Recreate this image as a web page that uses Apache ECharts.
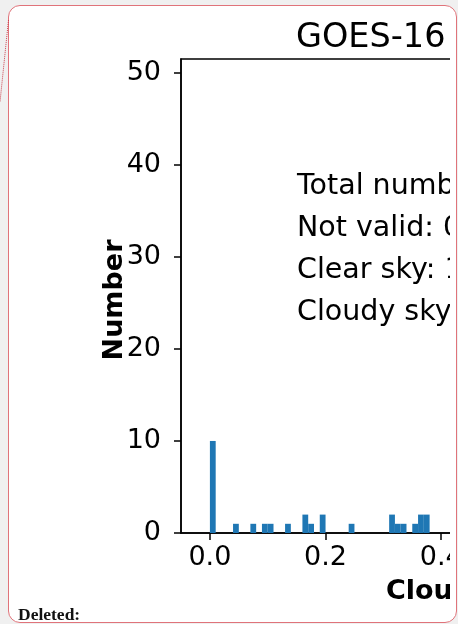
<!DOCTYPE html>
<html>
<head>
<meta charset="utf-8">
<script src="https://cdn.jsdelivr.net/npm/echarts@6/dist/echarts.min.js"></script>
<style>
  html, body { margin: 0; padding: 0; background: #f0f0f0; width: 458px; height: 624px; overflow: hidden; }
  #box { position: absolute; left: 7.5px; top: 4.5px; width: 449.5px; height: 618.5px; box-sizing: border-box;
         border: 1.5px solid #e0737a; border-radius: 12px; background: #ffffff; }
  #clip { position: absolute; left: 0; top: 0; width: 450px; height: 624px; overflow: hidden; }
  #chart { position: absolute; left: 0; top: 0; width: 900px; height: 624px; }
</style>
</head>
<body>
<div id="box"></div>
<div id="clip"><div id="chart"></div></div>
<script>
// ---- data ----
const binStarts = [0.00, 0.04, 0.07, 0.09, 0.10, 0.13, 0.16, 0.17, 0.19, 0.24, 0.31, 0.32, 0.33, 0.35, 0.36, 0.37];
const counts    = [10,   1,    1,    1,    1,    1,    2,    1,    2,    1,    2,    1,    1,    1,    2,    2];
const binWidth = 0.01;
const xTicks = [0.0, 0.2, 0.4, 0.6, 0.8, 1.0];
const yTicks = [0, 10, 20, 30, 40, 50];
const titleText = 'GOES-16';
const infoLines = ['Total number: 30', 'Not valid: 0', 'Clear sky: 10', 'Cloudy sky: 20'];
const xLabel = 'Cloud fraction';
const yLabel = 'Number';
const noteText = 'Deleted:';

const histData = binStarts.map((s, i) => [s, counts[i]]);

const chart = echarts.init(document.getElementById('chart'), null, { renderer: 'canvas' });
const FONT = 'DejaVu Sans';

const infoGraphics = infoLines.map((t, i) => ({
  type: 'text', x: 297, y: 187 + i * 42, z: 10,
  style: { text: t, fontFamily: FONT, fontSize: 28.5, fill: '#000', textAlign: 'left', textVerticalAlign: 'middle' }
}));

chart.setOption({
  animation: false,
  backgroundColor: 'transparent',
  grid: { left: 181, top: 59, width: 636, height: 474, show: true, borderColor: '#000', borderWidth: 1.5,
          backgroundColor: 'transparent', outerBoundsMode: 'none', containLabel: false },
  xAxis: {
    type: 'value', min: -0.05, max: 1.05,
    axisLine: { show: true, onZero: false, lineStyle: { color: '#000', width: 1.5 } },
    axisTick: { show: true, length: 7, inside: false, lineStyle: { color: '#000', width: 1.5 }, customValues: xTicks },
    axisLabel: { customValues: xTicks, formatter: v => v.toFixed(1), fontFamily: FONT, fontSize: 27, color: '#000', margin: 11 },
    splitLine: { show: false }
  },
  yAxis: {
    type: 'value', min: 0, max: 51.5,
    axisLine: { show: true, onZero: false, lineStyle: { color: '#000', width: 1.5 } },
    axisTick: { show: true, length: 7, inside: false, lineStyle: { color: '#000', width: 1.5 }, customValues: yTicks },
    axisLabel: { customValues: yTicks, formatter: v => String(v), fontFamily: FONT, fontSize: 27, color: '#000', margin: 20 },
    splitLine: { show: false }
  },
  series: [{
    type: 'custom',
    data: histData,
    renderItem: function (params, api) {
      const x0 = api.value(0), h = api.value(1);
      const p0 = api.coord([x0, 0]);
      const p1 = api.coord([x0 + binWidth, h]);
      return {
        type: 'rect',
        shape: { x: p0[0], y: p1[1], width: p1[0] - p0[0], height: p0[1] - p1[1] },
        style: { fill: '#1f77b4' }
      };
    },
    encode: { x: 0, y: 1 }
  }],
  graphic: [
    { type: 'text', x: 296, y: 38.5, z: 10,
      style: { text: titleText, fontFamily: FONT, fontSize: 33.5, fill: '#000', textAlign: 'left', textVerticalAlign: 'middle' } },
    ...infoGraphics,
    { type: 'text', x: 386, y: 592, z: 10,
      style: { text: xLabel, fontFamily: FONT, fontWeight: 'bold', fontSize: 27, fill: '#000', textAlign: 'left', textVerticalAlign: 'middle' } },
    { type: 'text', x: 115, y: 300, rotation: Math.PI / 2, z: 10,
      style: { text: yLabel, fontFamily: FONT, fontWeight: 'bold', fontSize: 27, fill: '#000', textAlign: 'center', textVerticalAlign: 'middle' } },
    { type: 'text', x: 18, y: 615, z: 10,
      style: { text: noteText, fontFamily: 'Liberation Serif', fontWeight: 'bold', fontSize: 17.5, fill: '#111', textAlign: 'left', textVerticalAlign: 'middle' } },
    { type: 'line', z: 10,
      shape: { x1: 8.5, y1: 20, x2: 0, y2: 102 },
      style: { stroke: '#cc3f4c', lineWidth: 1, lineDash: [1, 1] } }
  ]
});
</script>
</body>
</html>
